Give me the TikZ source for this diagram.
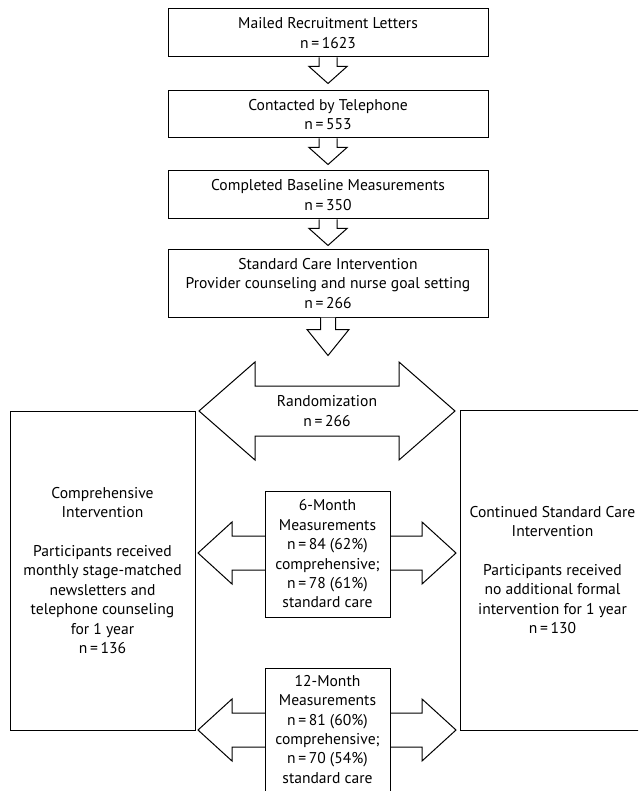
\documentclass[tikz,border=0pt]{standalone}
\usepackage{fontspec}
\setmainfont{PT Sans}
\usetikzlibrary{calc}
\newcommand\fs{\fontsize{15.6}{19.4}\selectfont}
\newcommand\dblarr[5]{%
 \draw[barrow] ($(#1)+(-#2,0)$) -- ($(#1)+({-#2+#3},-#4)$) -- ($(#1)+({-#2+#3},-#5)$) -- ($(#1)+({#2-#3},-#5)$) -- ($(#1)+({#2-#3},-#4)$) -- ($(#1)+(#2,0)$) -- ($(#1)+({#2-#3},#4)$) -- ($(#1)+({#2-#3},#5)$) -- ($(#1)+({-#2+#3},#5)$) -- ($(#1)+({-#2+#3},#4)$) -- cycle;}
\newcommand\downarr[5]{%
 \draw[barrow] ($(#1.south)+(-#5,0)$) -- ($(#1.south)+(-#5,#2)$) -- ($(#1.south)+(-#4,#2)$) -- ($(#1.south)+(0,{#2+#3})$) -- ($(#1.south)+(#4,#2)$) -- ($(#1.south)+(#5,#2)$) -- ($(#1.south)+(#5,0)$);}
\begin{document}
\begin{tikzpicture}[x=1pt,y=-1pt,
  box/.style={draw, line width=1pt, fill=white, align=center, font=\fs, inner sep=0pt},
  lbl/.style={align=center, font=\fs, inner sep=0pt},
  barrow/.style={draw, line width=1pt, fill=white, line join=miter}]
\useasboundingbox (0,0) rectangle (638,791);
\fill[white] (0,0) rectangle (638,791);
\clip (0,0) rectangle (638,791);
% top boxes
\node[box, minimum width=320, minimum height=48] (b1) at (328,33) {Mailed Recruitment Letters\\n\,=\,1623};
\node[box, minimum width=320, minimum height=47] (b2) at (328,114.5) {Contacted by Telephone\\n\,=\,553};
\node[box, minimum width=320, minimum height=48] (b3) at (328,195) {Completed Baseline Measurements\\n\,=\,350};
\node[box, minimum width=320, minimum height=67] (b4) at (328,283.5) {Standard Care Intervention\\Provider counseling and nurse goal setting\\n\,=\,266};
\downarr{b1}{9}{17}{19}{9}
\downarr{b2}{9}{17}{19}{9}
\downarr{b3}{9}{17}{19}{9}
\downarr{b4}{12}{26}{21}{7.5}
% randomization
\coordinate (rc) at (327,411);
\dblarr{rc}{128}{56}{49}{25}
\node[lbl] (rand) at (rc) {Randomization\\n\,=\,266};
% side boxes
\node[box, minimum width=185, minimum height=319] (lb) at (102.5,570.5) {Comprehensive\\Intervention\\[19.4pt]Participants received\\monthly stage-matched\\newsletters and\\telephone counseling\\for 1 year\\n\,=\,136};
\node[box, minimum width=185, minimum height=320] (rb) at (552.5,570) {Continued Standard Care\\Intervention\\[19.4pt]Participants received\\no additional formal\\intervention for 1 year\\n\,=\,130};
% 6-month
\coordinate (sc) at (327,553);
\dblarr{sc}{129}{34}{31}{17}
\node[box, minimum width=125, minimum height=126] (m6) at (327.5,554) {6-Month\\Measurements\\n\,=\,84 (62\%)\\comprehensive;\\n\,=\,78 (61\%)\\standard care};
% 12-month
\coordinate (tc) at (327,730);
\dblarr{tc}{129}{34}{31}{17}
\node[box, minimum width=125, minimum height=240, anchor=north] (m12) at (327.5,668) {};
\node[lbl, anchor=north] (m12t) at (327.5,675) {12-Month\\Measurements\\n\,=\,81 (60\%)\\comprehensive;\\n\,=\,70 (54\%)\\standard care};
\end{tikzpicture}
\end{document}
